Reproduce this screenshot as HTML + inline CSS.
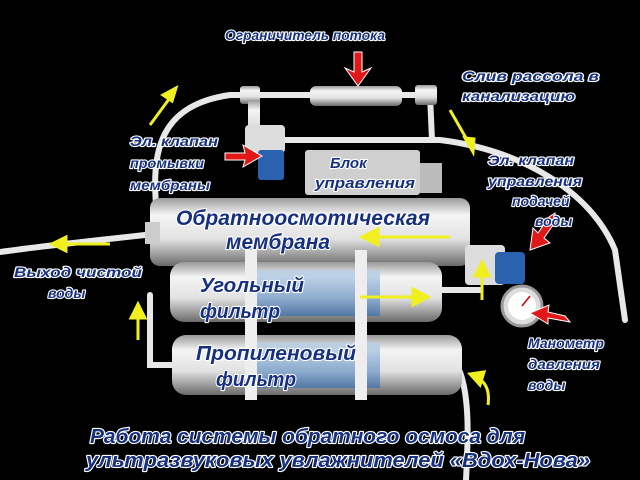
<!DOCTYPE html>
<html><head><meta charset="utf-8"><style>
html,body{margin:0;padding:0;background:#000;width:640px;height:480px;overflow:hidden}
svg text{font-family:"Liberation Sans",sans-serif;font-style:italic;font-weight:bold;fill:#16307f;stroke:#fff;stroke-width:2.2px;paint-order:stroke;stroke-linejoin:round}
</style></head><body>
<svg width="640" height="480" viewBox="0 0 640 480" xmlns="http://www.w3.org/2000/svg">
<defs>
<linearGradient id="cyl" x1="0" y1="0" x2="0" y2="1">
<stop offset="0" stop-color="#9a9a9a"/><stop offset="0.25" stop-color="#f4f4f4"/><stop offset="0.6" stop-color="#e2e2e2"/><stop offset="1" stop-color="#6a6a6a"/></linearGradient>
<linearGradient id="lbl" x1="0" y1="0" x2="0" y2="1"><stop offset="0" stop-color="#b8d0ea"/><stop offset="1" stop-color="#3a70b0"/></linearGradient>
</defs>
<rect width="640" height="480" fill="#000"/>
<g fill="none" stroke="#e8e8e8" stroke-width="6" stroke-linecap="round">
<path d="M157 215 C150 150 160 105 230 95 L430 95"/>
<path d="M430 95 L432 140"/>
<path d="M250 140 L440 140 C520 150 590 190 615 250 L625 320"/>
<path d="M145 235 C100 240 50 245 0 252"/>
<path d="M460 372 C470 400 468 440 466 480"/>
<path d="M150 295 L150 365 L175 365"/>
<path d="M440 290 L480 290"/>
</g>
<rect x="310" y="86" width="92" height="20" rx="6" fill="url(#cyl)"/>
<rect x="240" y="86" width="20" height="18" rx="3" fill="url(#cyl)"/>
<rect x="415" y="85" width="22" height="20" rx="3" fill="url(#cyl)"/>
<rect x="248" y="100" width="12" height="40" fill="url(#cyl)"/>
<rect x="245" y="125" width="40" height="28" rx="4" fill="#ddd"/>
<rect x="258" y="150" width="26" height="30" rx="3" fill="#2b62b0"/>
<rect x="305" y="150" width="115" height="45" rx="3" fill="#cfcfcf"/>
<rect x="420" y="163" width="22" height="30" fill="#bbb"/>
<rect x="150" y="198" width="320" height="68" rx="10" fill="url(#cyl)"/>
<rect x="145" y="222" width="15" height="22" fill="#ccc"/>
<rect x="170" y="262" width="272" height="60" rx="14" fill="url(#cyl)"/>
<rect x="250" y="270" width="130" height="46" fill="url(#lbl)" opacity="0.7"/>
<rect x="172" y="335" width="290" height="60" rx="14" fill="url(#cyl)"/>
<rect x="250" y="342" width="130" height="46" fill="url(#lbl)" opacity="0.7"/>
<rect x="245" y="250" width="12" height="150" fill="#eee"/>
<rect x="355" y="250" width="12" height="150" fill="#eee"/>
<rect x="465" y="245" width="40" height="40" rx="4" fill="#ddd"/>
<rect x="495" y="252" width="30" height="32" rx="4" fill="#2b62b0"/>
<circle cx="522" cy="306" r="20" fill="#ddd" stroke="#999" stroke-width="3"/>
<circle cx="522" cy="306" r="14" fill="#fff"/>
<line x1="522" y1="306" x2="530" y2="296" stroke="#c00" stroke-width="1.5"/>
<g stroke="#f0f020" stroke-width="3" fill="#f0f020">
<line x1="150" y1="125" x2="172" y2="95"/><polygon points="176,88 163,95 172,101"/>
<line x1="450" y1="110" x2="470" y2="145"/><polygon points="473,152 465,138 474,139"/>
<line x1="450" y1="237" x2="370" y2="237"/><polygon points="362,237 378,229 378,245"/>
<line x1="360" y1="297" x2="420" y2="297"/><polygon points="428,297 413,289 413,305"/>
<line x1="110" y1="244" x2="60" y2="244"/><polygon points="52,244 66,237 66,251"/>
<line x1="138" y1="340" x2="138" y2="312"/><polygon points="138,304 131,318 145,318"/>
<line x1="482" y1="300" x2="482" y2="270"/><polygon points="482,262 475,276 489,276"/>
<path d="M488 405 C490 390 485 382 478 378" fill="none"/><polygon points="470,374 484,372 480,385"/>
</g>
<g fill="#e01818" stroke="#fff" stroke-width="1">
<polygon points="354,52 362,52 362,72 371,68 358,86 345,68 354,72"/>
<polygon points="225,153 245,153 243,145 262,156 243,167 245,160 225,160"/>
<polygon points="555,213 549,217 538,233 533,228 530,250 550,243 544,238 556,221"/>
<polygon points="570,322 565,316 548,312 549,305 530,313 548,324 548,318"/>
</g>
<text x="225" y="40" font-size="14" textLength="160" lengthAdjust="spacingAndGlyphs">Ограничитель потока</text>
<text x="462" y="81" font-size="14" textLength="137" lengthAdjust="spacingAndGlyphs">Слив рассола в</text>
<text x="462" y="101" font-size="14" textLength="113" lengthAdjust="spacingAndGlyphs">канализацию</text>
<text x="130" y="146" font-size="14" textLength="88" lengthAdjust="spacingAndGlyphs">Эл. клапан</text>
<text x="130" y="168" font-size="14" textLength="74" lengthAdjust="spacingAndGlyphs">промывки</text>
<text x="130" y="190" font-size="14" textLength="80" lengthAdjust="spacingAndGlyphs">мембраны</text>
<text x="330" y="168" font-size="15">Блок</text>
<text x="315" y="188" font-size="15" textLength="100" lengthAdjust="spacingAndGlyphs">управления</text>
<text x="488" y="165" font-size="14" textLength="86" lengthAdjust="spacingAndGlyphs">Эл. клапан</text>
<text x="488" y="186" font-size="14" textLength="94" lengthAdjust="spacingAndGlyphs">управления</text>
<text x="512" y="206" font-size="14">подачей</text>
<text x="535" y="226" font-size="14">воды</text>
<text x="176" y="225" font-size="21" textLength="254" lengthAdjust="spacingAndGlyphs">Обратноосмотическая</text>
<text x="226" y="249" font-size="21" textLength="104" lengthAdjust="spacingAndGlyphs">мембрана</text>
<text x="14" y="277" font-size="14" textLength="128" lengthAdjust="spacingAndGlyphs">Выход чистой</text>
<text x="48" y="298" font-size="14">воды</text>
<text x="200" y="292" font-size="20" textLength="104" lengthAdjust="spacingAndGlyphs">Угольный</text>
<text x="200" y="318" font-size="20" textLength="80" lengthAdjust="spacingAndGlyphs">фильтр</text>
<text x="196" y="360" font-size="20" textLength="160" lengthAdjust="spacingAndGlyphs">Пропиленовый</text>
<text x="216" y="386" font-size="20" textLength="80" lengthAdjust="spacingAndGlyphs">фильтр</text>
<text x="528" y="348" font-size="14" textLength="76" lengthAdjust="spacingAndGlyphs">Манометр</text>
<text x="528" y="369" font-size="14" textLength="72" lengthAdjust="spacingAndGlyphs">давления</text>
<text x="528" y="390" font-size="14">воды</text>
<text x="90" y="443" font-size="20" textLength="435" lengthAdjust="spacingAndGlyphs">Работа системы обратного осмоса для</text>
<text x="86" y="467" font-size="20" textLength="504" lengthAdjust="spacingAndGlyphs">ультразвуковых  увлажнителей «Вдох-Нова»</text>
</svg>
</body></html>
